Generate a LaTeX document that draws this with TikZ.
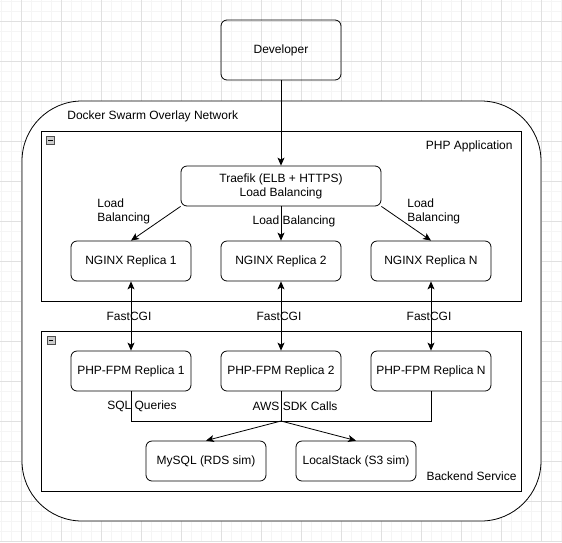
\documentclass[tikz,border=0pt]{standalone}
\usepackage{fontspec}
\setmainfont{Liberation Sans}
\usetikzlibrary{arrows.meta}

\begin{document}
\begin{tikzpicture}[x=1pt, y=-1pt, line width=0.8pt,
		font=\fontsize{12}{14}\selectfont,
		box/.style={draw, rounded corners=6pt, minimum width=120pt, minimum height=40pt, inner sep=0pt, align=center},
		group/.style={draw, minimum width=480pt, inner sep=0pt},
		lbl/.style={inner sep=0pt, align=left},
		fold/.style={draw=black!70, fill=black!20, line width=0.6pt, minimum size=8pt, inner sep=0pt},
		arr/.style={-{Stealth[length=8pt, width=7pt, inset=2pt]}},
		darr/.style={{Stealth[length=8pt, width=7pt, inset=2pt]}-{Stealth[length=8pt, width=7pt, inset=2pt]}}]
	\useasboundingbox (0,0) rectangle (562,542);

	% faint canvas grid
	\foreach \x in {1,11,...,561} \draw[black!4, line width=0.5pt] (\x,0) -- (\x,542);
	\foreach \y in {1,11,...,541} \draw[black!4, line width=0.5pt] (0,\y) -- (562,\y);
	\foreach \x in {21,61,...,541} \draw[black!12, line width=0.5pt] (\x,0) -- (\x,542);
	\foreach \y in {21,61,...,541} \draw[black!12, line width=0.5pt] (0,\y) -- (562,\y);

	% containers
	\node[draw, fill=white, rounded corners=60pt, minimum width=519pt, minimum height=420pt] (swarm) at (281.5,311) {};
	\node[lbl, anchor=west] (swarmlbl) at (67,116) {Docker Swarm Overlay Network};
	\node[group, minimum height=170pt] (phpapp) at (281,216) {};
	\node[lbl, anchor=east] (phpapplbl) at (513,146) {PHP Application};
	\node[fold] (phpfold) at (50.5,140.5) {\rule{5pt}{1.2pt}};
	\node[group, minimum height=160pt] (backend) at (281,411) {};
	\node[lbl, anchor=east] (backendlbl) at (517,476) {Backend Service};
	\node[fold] (backendfold) at (51,340.5) {\rule{5pt}{1.2pt}};

	% boxes
	\node[box, minimum height=60pt] (dev) at (281,50) {Developer};
	\node[box, minimum width=200pt] (traefik) at (281,186) {Traefik (ELB + HTTPS)\\Load Balancing};
	\node[box] (nginx1) at (131,261) {NGINX Replica 1};
	\node[box] (nginx2) at (281,261) {NGINX Replica 2};
	\node[box] (nginxn) at (431,261) {NGINX Replica N};
	\node[box] (fpm1) at (131,371) {PHP-FPM Replica 1};
	\node[box] (fpm2) at (281,371) {PHP-FPM Replica 2};
	\node[box] (fpmn) at (431,371) {PHP-FPM Replica N};
	\node[box] (mysql) at (206,461) {MySQL (RDS sim)};
	\node[box] (localstack) at (356,461) {LocalStack (S3 sim)};

	% connectors
	\draw[arr] (dev) -- (traefik);
	\draw[arr] (traefik.south west) -- (nginx1.north);
	\draw[arr] (traefik) -- (nginx2);
	\draw[arr] (traefik.south east) -- (nginxn.north);
	\node[lbl, anchor=west] (lb1) at (97,211) {Load\\Balancing};
	\node[lbl] (lb2) at (294,221) {Load Balancing};
	\node[lbl, anchor=west] (lbn) at (407,211.5) {Load\\Balancing};

	\draw[darr] (nginx1) -- node[lbl, xshift=-2pt]{FastCGI} (fpm1);
	\draw[darr] (nginx2) -- node[lbl, xshift=-2pt]{FastCGI} (fpm2);
	\draw[darr] (nginxn) -- node[lbl, xshift=-2pt]{FastCGI} (fpmn);

	\coordinate (hub) at (281,421);
	\draw (fpm1.south) |- (hub);
	\draw (fpm2.south) -- (hub);
	\draw (fpmn.south) |- (hub);
	\draw[arr] (hub) -- (mysql.north);
	\draw[arr] (hub) -- (localstack.north);
	\node[lbl] (sqllbl) at (142,406) {SQL Queries};
	\node[lbl] (awslbl) at (295,406) {AWS SDK Calls};
\end{tikzpicture}
\end{document}
